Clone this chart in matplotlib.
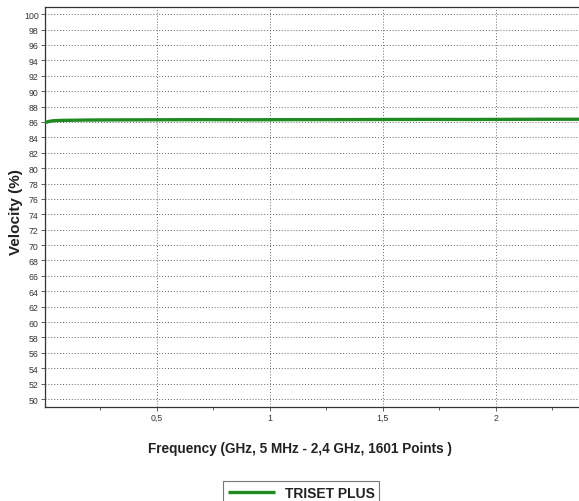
import matplotlib
matplotlib.use("Agg")
import matplotlib.pyplot as plt
from matplotlib.ticker import MultipleLocator, FuncFormatter

plt.rcParams["font.family"] = ["Liberation Sans", "DejaVu Sans"]

# Measured phase velocity of the cable across the sweep
freq_ghz = [0.005, 0.02, 0.04, 0.07, 0.12, 0.2, 0.35, 0.5, 0.7, 0.9, 1.1, 1.3, 1.5,
            1.7, 1.9, 2.1, 2.25, 2.4]
velocity_pct = [85.9, 86.05, 86.15, 86.2, 86.22, 86.25, 86.27, 86.28, 86.3, 86.28,
                86.3, 86.3, 86.32, 86.33, 86.32, 86.34, 86.35, 86.35]
series_name = "TRISET PLUS"

x_ticks = [0.5, 1.0, 1.5, 2.0]
y_ticks = list(range(50, 101, 2))

W, H = 579, 502
fig = plt.figure(figsize=(W / 100, H / 100), dpi=100)
fig.patch.set_facecolor("white")

x0, x1 = 0.005, 2.4
left_px, bottom_px, top_px = 45, 407.7, 7.5
px_per_ghz = 226.0
right_px = left_px + (x1 - x0) * px_per_ghz
ax = fig.add_axes([left_px / W, (H - bottom_px) / H,
                   (right_px - left_px) / W, (bottom_px - top_px) / H])

ax.plot(freq_ghz, velocity_pct, color="#1f8a1f", lw=2.4, solid_capstyle="butt",
        label=series_name, zorder=3)

ax.set_xlim(x0, x1)
ax.set_ylim(49, 101)
ax.set_xticks(x_ticks)
ax.xaxis.set_minor_locator(MultipleLocator(0.25))
ax.set_yticks(y_ticks)
ax.xaxis.set_major_formatter(FuncFormatter(lambda v, p: f"{v:g}".replace(".", ",")))

ax.grid(True, which="major", color="#666666", linestyle=(0, (1, 2)), linewidth=0.7)
ax.tick_params(axis="both", which="major", labelsize=6.3, length=3, width=0.6,
               color="#444444", labelcolor="#333333", pad=1.5)
ax.tick_params(axis="x", which="minor", length=2, width=0.6, color="#444444")
for side in ["left", "bottom", "top"]:
    ax.spines[side].set_color("#333333")
    ax.spines[side].set_linewidth(0.9)

fig.text(16 / W, 1 - 212 / H, "Velocity (%)", rotation=90, ha="center", va="center",
         fontsize=11, fontweight="bold", color="#222222")
fig.text(300 / W, 1 - 449 / H, "Frequency (GHz, 5 MHz - 2,4 GHz, 1601 Points )",
         ha="center", va="center", fontsize=9.8, fontweight="bold", color="#222222")

leg = fig.legend(loc="upper center", bbox_to_anchor=(301 / W, 1 - 482 / H),
                 fontsize=10, frameon=True, fancybox=False, handlelength=3.4,
                 borderpad=0.35, handletextpad=0.7, borderaxespad=0)
leg.get_frame().set_edgecolor("#555555")
leg.get_frame().set_linewidth(0.8)
for t in leg.get_texts():
    t.set_fontweight("bold")
    t.set_color("#222222")

fig.savefig("out.png", dpi=100, facecolor="white")
